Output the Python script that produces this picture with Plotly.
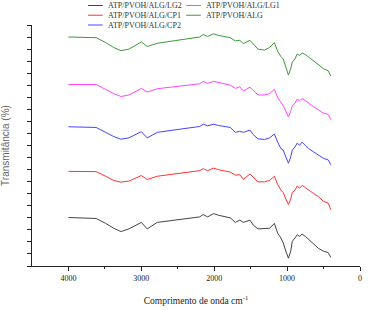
import plotly.graph_objects as go

wavenumber = [4000, 3620, 3490, 3380, 3280, 3170, 3000, 2920, 2780, 2500, 2200, 2150,
              2090, 2010, 1940, 1780, 1710, 1650, 1600, 1510, 1465, 1400, 1310, 1240,
              1175, 1130, 1085, 1054, 1018, 982, 950, 929, 892, 861, 829, 794, 749,
              704, 637, 569, 502, 435, 400]

alg = [234.7, 234, 229, 224, 220.7, 222.3, 229.7, 225, 228.3, 231.7, 234.7, 237.3, 235.3,
       238, 236.3, 234, 230.7, 231.3, 228, 231.3, 228, 222.3, 221.3, 224, 229, 220, 214.7,
       212.3, 204, 195.7, 202.3, 209, 212.3, 217.3, 215.7, 218.3, 216.7, 214, 210.7, 205.7,
       202.3, 200, 194.7]
lg1 = [186, 186, 181, 176.7, 173.7, 175.3, 182, 178.3, 181.7, 184.3, 186.7, 189.3, 187,
       189.3, 188, 185.3, 182, 183.7, 179.3, 183.3, 180, 175.3, 175.3, 176.7, 181, 172.7,
       167.7, 164.3, 158.7, 152.7, 158.7, 164.3, 166.7, 171, 169.3, 171.7, 169.3, 166.7,
       163.3, 160, 156.7, 155.3, 150]
cp2 = [142.7, 142, 137, 132.7, 130, 131.3, 137.7, 131.3, 137, 140, 143, 145.3, 143.7,
       145.3, 144, 142, 137, 138, 137, 139.3, 134.7, 130.3, 129.7, 131.3, 135.3, 127, 120.3,
       118.7, 111.3, 105.3, 112, 118.7, 122, 126, 123.7, 127, 123.7, 120.3, 117, 113.7,
       110.3, 108.7, 103.7]
cp1 = [97, 96.7, 92, 87.7, 86, 87, 92.7, 88.7, 92, 95, 97.7, 99.7, 97.7, 100.3, 98.7, 96.3,
       93, 93.7, 88.7, 94.3, 91, 86.3, 86.3, 87.7, 92, 83.7, 77.7, 75.3, 68.7, 63, 68.7,
       75.3, 77.7, 82, 79.7, 82.7, 80.3, 77.7, 74.3, 71, 66.3, 64.3, 57.7]
lg2 = [49.7, 48.7, 43.7, 38.7, 35.3, 38, 44.7, 38, 44.7, 47.7, 50.3, 52.7, 50.3, 53.7, 52,
       49.3, 44.7, 47, 44.7, 47, 42, 38, 38, 38.7, 43.7, 33.7, 28.7, 23.7, 15.3, 8, 15.3,
       25.3, 28.7, 32, 30.3, 32.7, 30.3, 27, 22.7, 18, 15.3, 13.7, 8.7]

# legend order: column 1 then column 2
series = [
    ("ATP/PVOH/ALG/LG2", lg2, "#444444"),
    ("ATP/PVOH/ALG/CP1", cp1, "#ff3333"),
    ("ATP/PVOH/ALG/CP2", cp2, "#4444ff"),
    ("ATP/PVOH/ALG/LG1", lg1, "#ff44ff"),
    ("ATP/PVOH/ALG", alg, "#3c9a3c"),
]

W, H = 368, 310
ML, MR, MT, MB = 28, 6, 25, 38
PW, PH = W - ML - MR, H - MT - MB

fig = go.Figure()
for name, vals, col in series:
    fig.add_trace(go.Scatter(x=wavenumber, y=vals, mode="lines", name=name,
                             line=dict(color=col, width=1), showlegend=False))

font = "Liberation Serif, Times New Roman, serif"
sans = "Liberation Sans, Arial, sans-serif"

def px_x(p):
    return (p - ML) / PW

def px_y(p):
    return (H - MB - p) / PH

legend_cols = [85, 185]
legend_rows = [5, 15, 25]
shapes, annotations = [], []
for i, (name, vals, col) in enumerate(series):
    c, r = divmod(i, 3)
    x0 = legend_cols[c]
    y = legend_rows[r]
    shapes.append(dict(type="line", xref="paper", yref="paper",
                       x0=px_x(x0), x1=px_x(x0 + 15), y0=px_y(y), y1=px_y(y),
                       line=dict(color=col, width=1)))
    annotations.append(dict(text=name, xref="paper", yref="paper",
                            x=px_x(x0 + 18), y=px_y(y), xanchor="left", yanchor="middle",
                            showarrow=False, font=dict(family=font, size=8, color="#333")))

fig.update_layout(
    width=W, height=H,
    margin=dict(l=ML, r=MR, t=MT, b=MB),
    paper_bgcolor="white", plot_bgcolor="white",
    font=dict(family=font, size=8, color="#222"),
    showlegend=False,
    shapes=shapes, annotations=annotations,
    xaxis=dict(range=[4500, 0], showgrid=False, zeroline=False,
               showline=True, linecolor="#222", linewidth=1,
               ticks="outside", ticklen=4, tickcolor="#222", tickwidth=1,
               tickvals=[4000, 3000, 2000, 1000, 0],
               minor=dict(tickvals=[3500, 2500, 1500, 500], ticks="outside", ticklen=2,
                          tickcolor="#222"),
               title=dict(text="Comprimento de onda cm<sup>-1</sup>",
                          font=dict(family=font, size=9.5, color="#222"))),
    yaxis=dict(range=[0, 247], showgrid=False, zeroline=False,
               showline=True, linecolor="#222", linewidth=1,
               ticks="outside", ticklen=4, tickcolor="#222", tickwidth=1,
               tick0=0, dtick=12.35, showticklabels=False,
               title=dict(text="Transmitância (%)",
                          font=dict(family=sans, size=10, color="#666"))),
)

fig.write_html("out.html", config={"displayModeBar": False},
               post_script="document.body.style.margin='0';")
